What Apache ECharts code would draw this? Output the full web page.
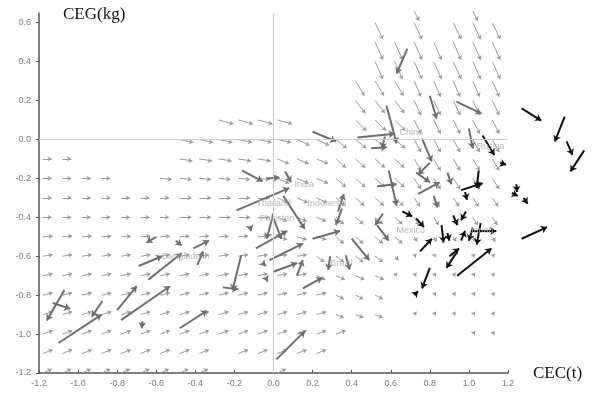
<!DOCTYPE html>
<html>
<head>
<meta charset="utf-8">
<script src="https://cdn.jsdelivr.net/npm/echarts@6/dist/echarts.min.js"></script>
<style>
html, body { margin: 0; padding: 0; background: #fff; }
#chart { width: 592px; height: 393px; }
</style>
</head>
<body>
<div id="chart"></div>
<script>
// tick labels
const xTicks = [-1.2, -1.0, -0.8, -0.6, -0.4, -0.2, 0.0, 0.2, 0.4, 0.6, 0.8, 1.0, 1.2];
const yTicks = [-1.2, -1.0, -0.8, -0.6, -0.4, -0.2, 0.0, 0.2, 0.4, 0.6];

// background field, read row by row: [row y, first tail x, last tail x, dx, dy]
// arrows in a run sit every 0.1 along x
const fieldRuns = [
  [0.66, 0.72, 0.72, 0.025, -0.05],
  [0.66, 1.02, 1.02, 0.025, -0.05],
  [0.6, 0.52, 0.52, 0.04, -0.085],
  [0.6, 0.72, 0.72, 0.04, -0.085],
  [0.6, 0.92, 1.12, 0.04, -0.085],
  [0.5, 0.52, 1.12, 0.04, -0.09],
  [0.4, 0.52, 1.12, 0.04, -0.09],
  [0.3, 0.42, 0.62, 0.045, -0.075],
  [0.3, 0.72, 1.12, 0.035, -0.08],
  [0.2, 0.42, 0.62, 0.05, -0.065],
  [0.2, 0.72, 1.12, 0.035, -0.075],
  [0.1, -0.28, 0.02, 0.075, -0.02],
  [0.1, 0.42, 0.62, 0.055, -0.055],
  [0.1, 0.72, 1.12, 0.035, -0.07],
  [0.0, -0.48, 0.02, 0.07, -0.015],
  [0.0, 0.12, 0.22, 0.065, -0.03],
  [0.0, 0.32, 0.62, 0.055, -0.045],
  [0.0, 0.72, 1.12, 0.035, -0.065],
  [-0.1, -1.18, -1.08, 0.045, 0],
  [-0.1, -0.48, -0.08, 0.065, -0.01],
  [-0.1, 0.02, 0.22, 0.06, -0.025],
  [-0.1, 0.32, 0.62, 0.05, -0.045],
  [-0.1, 0.72, 1.12, 0.035, -0.06],
  [-0.2, -1.18, -0.88, 0.045, 0],
  [-0.2, -0.58, -0.08, 0.06, -0.005],
  [-0.2, 0.02, 0.22, 0.06, -0.025],
  [-0.2, 0.32, 0.62, 0.05, -0.045],
  [-0.2, 0.72, 1.12, 0.035, -0.055],
  [-0.3, -1.18, -0.58, 0.045, 0],
  [-0.3, -0.48, -0.08, 0.06, 0],
  [-0.3, 0.02, 0.22, 0.055, -0.025],
  [-0.3, 0.32, 0.62, 0.045, -0.04],
  [-0.3, 0.72, 1.12, 0.03, -0.045],
  [-0.4, -1.18, -0.58, 0.045, 0],
  [-0.4, -0.48, -0.08, 0.06, 0],
  [-0.4, 0.02, 0.22, 0.05, -0.02],
  [-0.4, 0.32, 0.62, 0.04, -0.035],
  [-0.4, 0.72, 1.12, 0.025, -0.04],
  [-0.5, -1.18, -0.08, 0.05, 0.003],
  [-0.5, 0.02, 0.22, 0.05, -0.015],
  [-0.5, 0.32, 0.62, 0.04, -0.035],
  [-0.5, 0.72, 1.12, 0.015, -0.025],
  [-0.6, -1.18, 0.12, 0.05, 0.008],
  [-0.6, 0.22, 0.52, 0.04, -0.03],
  [-0.6, 0.62, 0.62, 0.02, -0.02],
  [-0.6, 0.72, 1.12, 0.012, 0.012],
  [-0.7, -1.18, 0.12, 0.05, 0.01],
  [-0.7, 0.22, 0.52, 0.045, -0.02],
  [-0.7, 0.62, 1.12, 0.012, 0.015],
  [-0.8, -1.18, 0.22, 0.05, 0.012],
  [-0.8, 0.32, 0.52, 0.04, -0.02],
  [-0.8, 0.82, 1.12, 0.012, 0.015],
  [-0.9, -1.18, 0.22, 0.05, 0.015],
  [-0.9, 0.32, 0.52, 0.04, -0.015],
  [-0.9, 0.72, 1.12, 0.012, 0.015],
  [-1.0, -1.18, 0.32, 0.05, 0.018],
  [-1.0, 1.02, 1.12, 0.012, 0.015],
  [-1.1, -1.18, -0.38, 0.05, 0.02],
  [-1.1, -0.18, 0.22, 0.05, 0.02],
  [-1.2, -1.18, -0.38, 0.045, 0.02],
  [-1.2, 0.02, 0.02, 0.045, 0.02]
];

// developing country paths: [x0, y0, x1, y1]
const grayArrows = [
  [0.685, 0.467, 0.63, 0.338],
  [0.578, 0.174, 0.63, -0.02],
  [0.43, 0.01, 0.62, 0.03],
  [0.2, 0.04, 0.32, -0.01],
  [0.57, 0.015, 0.555, -0.045],
  [0.5, -0.045, 0.58, -0.04],
  [0.8, 0.225, 0.835, 0.108],
  [0.936, 0.195, 1.064, 0.133],
  [0.76, 0.005, 0.81, -0.113],
  [1.0, 0.056, 1.02, -0.046],
  [0.8, -0.12, 0.74, -0.18],
  [0.73, -0.17, 0.8, -0.22],
  [0.59, -0.16, 0.63, -0.34],
  [0.53, -0.24, 0.63, -0.23],
  [0.74, -0.28, 0.85, -0.22],
  [0.89, -0.17, 0.91, -0.23],
  [0.82, -0.29, 0.84, -0.35],
  [-1.07, -0.774, -1.16, -0.93],
  [-1.13, -0.84, -1.04, -0.87],
  [-1.1, -1.046, -0.88, -0.9],
  [-0.875, -0.83, -0.93, -0.91],
  [-0.8, -0.877, -0.7, -0.754],
  [-0.78, -0.928, -0.53, -0.754],
  [-0.69, -0.65, -0.57, -0.6],
  [-0.64, -0.72, -0.47, -0.585],
  [-0.6, -0.5, -0.65, -0.53],
  [-0.5, -0.52, -0.47, -0.545],
  [-0.41, -0.56, -0.33, -0.52],
  [-0.39, -0.645, -0.36, -0.575],
  [-0.48, -0.97, -0.34, -0.88],
  [-0.67, -0.935, -0.675, -0.97],
  [-0.165, -0.595, -0.21, -0.775],
  [-0.26, -0.76, -0.18, -0.77],
  [-0.19, -0.364, 0.08, -0.25],
  [0.05, -0.29, 0.16, -0.46],
  [0.0, -0.38, -0.035, -0.51],
  [0.0, -0.405, 0.04, -0.51],
  [-0.09, -0.56, 0.07, -0.47],
  [-0.02, -0.62, 0.15, -0.535],
  [0.0, -0.68, 0.12, -0.635],
  [0.12, -0.7, 0.15, -0.62],
  [0.015, -1.13, 0.16, -0.985],
  [0.15, -0.765, 0.25, -0.71],
  [0.2, -0.51, 0.34, -0.47],
  [0.35, -0.355, 0.32, -0.44],
  [0.4, -0.51, 0.49, -0.62],
  [0.53, -0.44, 0.59, -0.52],
  [0.56, -0.38, 0.52, -0.44],
  [0.33, -0.37, 0.36, -0.28],
  [-0.16, -0.16, -0.056, -0.215],
  [-0.035, -0.2, 0.03, -0.195],
  [0.06, -0.165, 0.09, -0.22],
  [0.29, -0.6, 0.28, -0.67],
  [0.37, -0.595, 0.39, -0.67],
  [-0.12, -0.45, -0.115, -0.47],
  [-0.05, -0.64, -0.04, -0.65],
  [-0.035, -0.72, -0.03, -0.73]
];

// developed country paths: [x0, y0, x1, y1]
const blackArrows = [
  [1.27, 0.16, 1.37, 0.097],
  [1.49, 0.118, 1.44, -0.01],
  [1.5, -0.01, 1.53, -0.08],
  [1.59, -0.056, 1.52, -0.164],
  [1.07, 0.02, 1.13, -0.08],
  [1.16, -0.12, 1.19, -0.13],
  [1.243, -0.23, 1.246, -0.27],
  [1.22, -0.275, 1.25, -0.29],
  [1.28, -0.3, 1.3, -0.33],
  [1.27, -0.51, 1.4, -0.45],
  [0.96, -0.26, 1.07, -0.225],
  [1.05, -0.16, 1.04, -0.25],
  [0.98, -0.27, 0.99, -0.31],
  [0.66, -0.37, 0.71, -0.395],
  [0.73, -0.405, 0.77, -0.45],
  [0.75, -0.575, 0.81, -0.51],
  [0.86, -0.44, 0.87, -0.53],
  [0.89, -0.48, 0.9, -0.52],
  [0.92, -0.39, 0.94, -0.44],
  [0.985, -0.37, 0.96, -0.415],
  [1.06, -0.43, 1.04, -0.54],
  [1.02, -0.47, 1.14, -0.47],
  [1.02, -0.455, 1.0, -0.52],
  [0.96, -0.52, 0.98, -0.47],
  [0.94, -0.575, 0.885, -0.66],
  [0.94, -0.7, 1.115, -0.56],
  [0.8, -0.66, 0.76, -0.765],
  [0.72, -0.8, 0.74, -0.78],
  [0.9, -0.6, 0.95, -0.56]
];

// country names and where their text starts
const labelNames = ['China', 'Russia', 'India', 'U.S.A', 'Indonesia', 'Mexico', 'Japan', 'Bangladesh', 'Brazil', 'Thailand', 'Pakistan'];
const labelX = [0.645, 1.04, 0.107, 1.31, 0.174, 0.63, 1.0, -0.57, 0.29, -0.087, -0.07];
const labelY = [0.036, -0.036, -0.23, -0.318, -0.328, -0.47, -0.47, -0.6, -0.636, -0.328, -0.405];
const labelDark = ['U.S.A'];

function runsToLines(runs) {
  const out = [];
  runs.forEach(([y, x0, x1, dx, dy]) => {
    for (let x = x0; x <= x1 + 1e-6; x += 0.1) {
      out.push({ coords: [[x, y], [x + dx, y + dy]] });
    }
  });
  return out;
}

function toLines(list) {
  return list.map((a) => ({ coords: [[a[0], a[1]], [a[2], a[3]]] }));
}

function fmt(v) {
  return Math.abs(v) < 1e-9 ? '0.0' : v.toFixed(1);
}

const chart = echarts.init(document.getElementById('chart'));

const tickFont = { color: '#7a7a7a', fontSize: 9, fontFamily: 'Liberation Sans, Arial, sans-serif' };

const option = {
  animation: false,
  grid: { left: 39, right: 84, top: 13, bottom: 20 },
  xAxis: {
    type: 'value',
    min: -1.2,
    max: 1.2,
    axisLine: { onZero: false, lineStyle: { color: '#555', width: 1.5 } },
    axisTick: { customValues: xTicks, length: 3, inside: true, lineStyle: { color: '#555' } },
    axisLabel: Object.assign({ customValues: xTicks, formatter: fmt, margin: 6 }, tickFont),
    splitLine: { show: false }
  },
  yAxis: {
    type: 'value',
    min: -1.2,
    max: 0.65,
    axisLine: { onZero: false, lineStyle: { color: '#555', width: 1.5 } },
    axisTick: { customValues: yTicks, length: 3, lineStyle: { color: '#555' } },
    axisLabel: Object.assign({ customValues: yTicks, formatter: fmt, margin: 8 }, tickFont),
    splitLine: { show: false }
  },
  graphic: [
    {
      type: 'text', left: 63, top: 6,
      style: { text: 'CEG(kg)', font: '17px "Liberation Serif", "Times New Roman", serif', fill: '#111' }
    },
    {
      type: 'text', left: 533, top: 365,
      style: { text: 'CEC(t)', font: '17px "Liberation Serif", "Times New Roman", serif', fill: '#111' }
    }
  ],
  series: [
    {
      type: 'lines',
      coordinateSystem: 'cartesian2d',
      clip: false,
      silent: true,
      symbol: ['none', 'arrow'],
      symbolSize: 4,
      lineStyle: { color: '#9a9a9a', width: 1, opacity: 1, curveness: 0 },
      data: runsToLines(fieldRuns),
      markLine: {
        silent: true,
        symbol: 'none',
        label: { show: false },
        lineStyle: { color: '#cfcfcf', width: 1, type: 'solid' },
        data: [{ xAxis: 0 }, { yAxis: 0 }]
      }
    },
    {
      type: 'lines',
      coordinateSystem: 'cartesian2d',
      clip: false,
      silent: true,
      symbol: ['none', 'arrow'],
      symbolSize: 6,
      lineStyle: { color: '#6e6e6e', width: 2, opacity: 1, curveness: 0 },
      data: toLines(grayArrows)
    },
    {
      type: 'scatter',
      silent: true,
      symbolSize: 0,
      data: labelNames.map((n, i) => ({ name: n, value: [labelX[i], labelY[i]] })),
      label: {
        show: true,
        position: 'right',
        distance: 0,
        formatter: (p) => p.name,
        fontSize: 9,
        fontFamily: 'Liberation Sans, Arial, sans-serif',
        color: '#a8a8a8'
      },
      labelLayout: { hideOverlap: false }
    },
    {
      type: 'lines',
      coordinateSystem: 'cartesian2d',
      clip: false,
      silent: true,
      symbol: ['none', 'arrow'],
      symbolSize: 6,
      lineStyle: { color: '#111', width: 2, opacity: 1, curveness: 0 },
      data: toLines(blackArrows)
    },
    {
      type: 'scatter',
      silent: true,
      symbolSize: 0,
      data: labelDark.map((n) => ({ name: n, value: [labelX[labelNames.indexOf(n)], labelY[labelNames.indexOf(n)]] })),
      label: {
        show: true,
        position: 'right',
        distance: 0,
        formatter: (p) => p.name,
        fontSize: 9,
        fontFamily: 'Liberation Sans, Arial, sans-serif',
        color: '#333'
      }
    }
  ]
};

chart.setOption(option);
</script>
</body>
</html>
